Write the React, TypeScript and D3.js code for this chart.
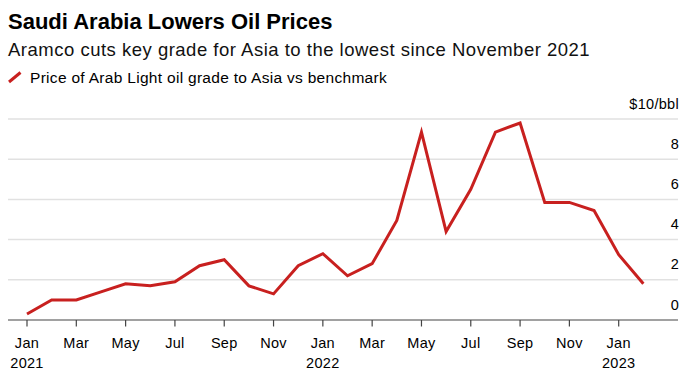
import React from "react";
import * as d3 from "d3";

const months: string[] = [
  "2021-01","2021-02","2021-03","2021-04","2021-05","2021-06","2021-07","2021-08","2021-09","2021-10","2021-11","2021-12",
  "2022-01","2022-02","2022-03","2022-04","2022-05","2022-06","2022-07","2022-08","2022-09","2022-10","2022-11","2022-12",
  "2023-01","2023-02",
];
const prices: number[] = [
  0.3, 1.0, 1.0, 1.4, 1.8, 1.7, 1.9, 2.7, 3.0, 1.7, 1.3, 2.7,
  3.3, 2.2, 2.8, 4.95, 9.35, 4.4, 6.5, 9.35, 9.8, 5.85, 5.85, 5.45,
  3.25, 1.8,
];
const yTicks: number[] = [0, 2, 4, 6, 8, 10];
const xTickIdx: number[] = [0, 2, 4, 6, 8, 10, 12, 14, 16, 18, 20, 22, 24];
const xTickLabels: string[] = ["Jan","Mar","May","Jul","Sep","Nov","Jan","Mar","May","Jul","Sep","Nov","Jan"];
const xYearLabels: string[] = ["2021","","","","","","2022","","","","","","2023"];

const W = 687;
const H = 375;
const FONT = "'Liberation Sans', Arial, Helvetica, sans-serif";
const RED = "#c8201f";

export default function App() {
  const x = d3.scaleLinear().domain([0, 24]).range([27, 618.7]);
  const y = d3.scaleLinear().domain([0, 10]).range([320, 119]);
  const line = d3
    .line<number>()
    .x((_, i) => x(i))
    .y((d) => y(d))
    .curve(d3.curveLinear);

  return (
    <svg width={W} height={H} style={{ position: "absolute", left: 0, top: 0, background: "#fff" }}>
      <text x={8} y={29} fontFamily={FONT} fontWeight={700} fontSize={22} fill="#000">
        Saudi Arabia Lowers Oil Prices
      </text>
      <text x={8} y={56} fontFamily={FONT} fontSize={18.5} letterSpacing={0.5} fill="#111">
        Aramco cuts key grade for Asia to the lowest since November 2021
      </text>
      <line x1={9} y1={82} x2={20.5} y2={72.5} stroke={RED} strokeWidth={3} />
      <text x={30} y={82.5} fontFamily={FONT} fontSize={15.5} letterSpacing={0.3} fill="#000">
        Price of Arab Light oil grade to Asia vs benchmark
      </text>

      {yTicks.slice(1).map((t) => (
        <line key={"g" + t} x1={8} x2={678} y1={y(t)} y2={y(t)} stroke="#e1e1e1" strokeWidth={1.5} />
      ))}
      {yTicks.map((t) => (
        <text
          key={"yl" + t}
          x={679}
          y={y(t) - 10.5}
          textAnchor="end"
          fontFamily={FONT}
          fontSize={14.5}
          letterSpacing={0.3}
          fill="#000"
        >
          {t === 10 ? "$10/bbl" : String(t)}
        </text>
      ))}

      <line x1={8} x2={678} y1={y(0)} y2={y(0)} stroke="#444" strokeWidth={1.2} />
      {xTickIdx.map((m, i) => (
        <g key={"xt" + m}>
          <line x1={x(m)} x2={x(m)} y1={y(0)} y2={y(0) + 6.5} stroke="#444" strokeWidth={1.2} />
          <text x={x(m)} y={348} textAnchor="middle" fontFamily={FONT} fontSize={14.5} letterSpacing={0.3} fill="#000">
            {xTickLabels[i]}
          </text>
          {xYearLabels[i] && (
            <text x={x(m)} y={368} textAnchor="middle" fontFamily={FONT} fontSize={14.5} letterSpacing={0.3} fill="#000">
              {xYearLabels[i]}
            </text>
          )}
        </g>
      ))}

      <path
        d={line(prices) || ""}
        fill="none"
        stroke={RED}
        strokeWidth={3}
        strokeLinejoin="miter"
        strokeLinecap="butt"
        data-months={months.join(",")}
      />
    </svg>
  );
}
